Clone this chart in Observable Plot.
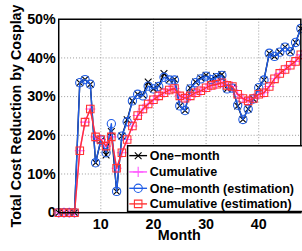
<!DOCTYPE html>
<html>
<head>
<meta charset="utf-8">
<script src="https://cdn.jsdelivr.net/npm/d3@7"></script>
<script src="https://cdn.jsdelivr.net/npm/@observablehq/plot@0.6"></script>
<style>
html, body { margin: 0; padding: 0; overflow: hidden; background: white; }
#chart { width: 302px; height: 251px; overflow: hidden; }
</style>
</head>
<body>
<div id="chart"></div>
<script>
const months = d3.range(2, 49);
const seriesNames = ["One\u2212month", "Cumulative", "One\u2212month (estimation)", "Cumulative (estimation)"];
const oneMonth = [0,0,0,0, 33.6,34.4,33.2,12.9,18.6,14.9,21,5.5,19.8,24, 28.9,30.6,30.4,33.8,32,32.8,36,34.3,34.5,27.6, 26.4,32.2,33.8,34.8,35.5,34.4,35.2,35.7,32,32.2, 27.6,24.1,26.8,29.4,32.3,34.3,41.2,40.4,41.5,42.8, 41.6,44,47.6];
const cumulative = [0,0,0,0, 16,23.4,26.8,19.6,18.9,17.2,19.6,11.5,15.5,18.9, 22.4,25.1,26.8,28.1,29.2,30.2,31,31.7,32.1,30.2, 29.6,30.2,31,31.5,32.3,32.9,33.2,33.6,32.9,32.6, 30.6,29.5,28.9,29.5,30.6,31,32.6,34.6,36,37, 38.1,39.1,40.8];
const oneMonthEst = [0,0,0,0, 33.6,34.4,33.2,12.9,18.8,15.5,23,5.5,19.8,23.5, 28.9,30.6,30.2,32.7,32,32.6,35,34.3,34.3,27.6, 26.4,32,33.6,34.6,35.3,34.4,34.9,35.5,32,32.2, 27.8,24.1,26.8,29.4,32.3,34.3,41.2,40.4,41.5,42.8, 41.6,44,47.6];
const cumulativeEst = [0,0,0,0, 16,23.4,26.8,19.6,18.9,17.2,19.6,11.5,15.5,18.9, 22.4,25.1,26.8,28.1,29.2,30.2,31,31.7,32.1,30.2, 29.6,30.2,31,31.5,32.3,32.9,33.2,33.6,32.9,32.6, 30.6,29.5,28.9,29.5,30.6,31,32.6,34.6,36,37, 38.1,39.1,40.8];
const xTicks = [10, 20, 30, 40];
const yTicks = [0, 10, 20, 30, 40, 50];

const colors = ["#000000", "#ff55ff", "#1f5ce6", "#ff3333"];
const symbols = ["times", "plus", "circle", "square"];
const radii = [3.2, 3.4, 4.2, 4.3];
const values = [oneMonth, cumulative, oneMonthEst, cumulativeEst];

const font = "'Liberation Sans', Arial, Helvetica, sans-serif";

const marks = [
  Plot.gridX(xTicks, {stroke: "#999", strokeOpacity: 1, strokeWidth: 1, strokeDasharray: "1,2"}),
  Plot.gridY(yTicks.filter(d => d > 0 && d < 50), {stroke: "#999", strokeOpacity: 1, strokeWidth: 1, strokeDasharray: "1,2"}),
  Plot.axisX({ticks: xTicks, tickSize: 0, tickPadding: 6, label: null}),
  Plot.axisY({ticks: yTicks, tickSize: 0, tickPadding: 3, label: null, tickFormat: d => d === 0 ? "0" : d + "%"})
];
values.forEach((vals, i) => {
  const data = months.map((m, j) => ({month: m, value: vals[j]}));
  marks.push(Plot.line(data, {x: "month", y: "value", stroke: colors[i], strokeWidth: 1.4}));
  marks.push(Plot.dot(data, {x: "month", y: "value", stroke: colors[i], symbol: symbols[i], r: radii[i], strokeWidth: 1.1, fill: "none"}));
});
marks.push(Plot.frame({stroke: "black", strokeWidth: 1.5}));

const plot = Plot.plot({
  width: 306,
  height: 251,
  marginLeft: 59,
  marginRight: 1.7,
  marginTop: 19,
  marginBottom: 36,
  style: {fontFamily: font, fontSize: "14.5px", fontWeight: "bold", color: "black", background: "white", overflow: "visible"},
  x: {domain: [2, 48], label: null},
  y: {domain: [0, 50], label: null},
  marks
});
document.getElementById("chart").appendChild(plot);

const svg = d3.select(plot);
const xs = plot.scale("x");
const x0 = xs.range[0], x1 = xs.range[1];

// axis titles
svg.append("text")
  .attr("x", (x0 + x1) / 2).attr("y", 243.5)
  .attr("text-anchor", "middle")
  .attr("font-family", font).attr("font-size", 14.5).attr("font-weight", "bold").attr("fill", "black")
  .text("Month");
svg.append("text")
  .attr("transform", "translate(21.5,117.5) rotate(-90)")
  .attr("text-anchor", "middle")
  .attr("font-family", font).attr("font-size", 14.5).attr("font-weight", "bold").attr("fill", "black")
  .text("Total Cost Reduction by Cosplay");

// legend
const lg = svg.append("g").attr("text-anchor", "start");
lg.append("rect").attr("x", 129.3).attr("y", 147.7).attr("width", 200).attr("height", 66.6)
  .attr("fill", "white").attr("stroke", "black").attr("stroke-width", 1.5);
const symMap = {times: d3.symbolTimes, plus: d3.symbolPlus, circle: d3.symbolCircle, square: d3.symbolSquare};
const rowY = [157.7, 174.2, 190.8, 206.6];
seriesNames.forEach((name, i) => {
  const y = rowY[i];
  lg.append("line").attr("x1", 131).attr("x2", 149).attr("y1", y).attr("y2", y)
    .attr("stroke", colors[i]).attr("stroke-width", 1.4);
  lg.append("path").attr("transform", `translate(140,${y})`)
    .attr("d", d3.symbol(symMap[symbols[i]], Math.PI * radii[i] * radii[i])())
    .attr("fill", "none").attr("stroke", colors[i]).attr("stroke-width", 1.1);
  lg.append("text").attr("x", 151.7).attr("y", y).attr("dy", "0.36em")
    .attr("text-anchor", "start")
    .attr("font-family", font).attr("font-size", 12.7).attr("font-weight", "bold").attr("fill", "black")
    .text(name);
});
</script>
</body>
</html>
